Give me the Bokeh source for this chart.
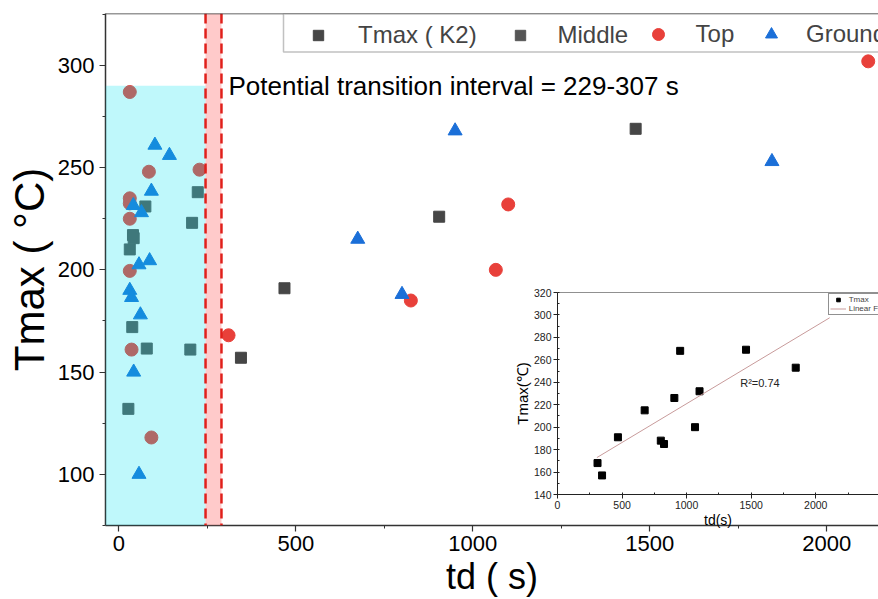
from bokeh.plotting import figure
from bokeh.models import (Span, BoxAnnotation, Label, Legend, LegendItem,
                          SingleIntervalTicker, Range1d)
from bokeh.embed import file_html
from bokeh.resources import INLINE

FONT = "Liberation Sans"

# ---------------- main chart data (td in s, Tmax in degC) ----------------
k2_td = [345, 468, 905, 1460]
k2_t = [157, 191, 226, 269]

mid_td = [223, 75, 207, 40, 42, 31, 38, 79, 202, 27]
mid_t = [238, 231, 223, 217, 215.5, 210, 172, 161.5, 161, 132]

top_td = [31, 85, 228, 31, 31, 31, 31, 36, 92, 310, 825, 1065, 1100, 2117]
top_t = [287, 248, 249, 235, 232.5, 225, 199.5, 161, 118, 168, 185, 200, 232, 302]

ground_td = [102, 143, 92, 41, 64, 87, 57, 31, 36, 61, 42, 57, 675, 800, 950, 1845]
ground_t = [261, 256, 238.5, 231.5, 228, 204.5, 202.5, 190, 186.5, 178, 150, 100, 215, 188, 268, 253]

legend_labels = ["Tmax ( K2)", "Middle", "Top", "Ground"]

cyan_end = 245      # end of the shaded low-td region (s)
cyan_top = 290      # top of the shaded region (degC)
band = [245, 290]   # transition interval band (s)
x_ticks_interval = 500
y_ticks_interval = 50

# ---------------- inset data ----------------
ins_td = [310, 345, 468, 675, 800, 825, 905, 950, 1065, 1100, 1460, 1845]
ins_t = [168, 157, 191, 215, 188, 185, 226, 268, 200, 232, 269, 253]
fit_x = [305, 2108]
fit_y = [172.9, 297.5]

# ---------------- main figure ----------------
p = figure(width=878, height=599,
           x_range=Range1d(-37.6, 2146), y_range=Range1d(74.95, 325.4),
           output_backend="svg", toolbar_location=None,
           min_border_left=105, min_border_top=13, min_border_right=0, min_border_bottom=74)
p.outline_line_color = None
p.grid.visible = False
p.background_fill_color = "white"

r_k2 = p.scatter(k2_td, k2_t, marker="square", size=11, color="#464646")
r_mid = p.scatter(mid_td, mid_t, marker="square", size=11, color="#555555")
r_top = p.scatter(top_td, top_t, marker="circle", size=13, color="#E8403A")
r_gr = p.scatter(ground_td, ground_t, marker="triangle", size=14, color="#1B6FD8")

p.add_layout(BoxAnnotation(right=cyan_end, top=cyan_top, fill_color="#00E4F0",
                           fill_alpha=0.25, line_color=None))
p.add_layout(BoxAnnotation(left=band[0], right=band[1], fill_color="#FF8A8A",
                           fill_alpha=0.45, line_color=None))
for b in band:
    p.add_layout(Span(location=b, dimension="height", line_color="#E0201B",
                      line_width=2.5, line_dash="10 5"))
p.add_layout(Span(location=325.4, dimension="width", line_color="#333333", line_width=1.5))

p.add_layout(Label(x=123, y=440, x_units="screen", y_units="screen",
                   text="Potential transition interval = 229-307 s",
                   text_font=FONT, text_font_size="26px", text_baseline="middle",
                   text_color="black"))

for ax in (p.xaxis[0], p.yaxis[0]):
    ax.axis_line_color = "#333333"
    ax.axis_line_width = 1.5
    ax.major_tick_line_color = "#333333"
    ax.minor_tick_line_color = "#333333"
    ax.major_tick_line_width = 1.2
    ax.major_tick_out = 6
    ax.major_tick_in = 0
    ax.minor_tick_out = 3
    ax.minor_tick_in = 0
    ax.major_label_text_font = FONT
    ax.major_label_text_font_size = "22px"
    ax.major_label_text_color = "black"
    ax.axis_label_text_font = FONT
    ax.axis_label_text_font_style = "normal"
    ax.axis_label_text_color = "black"

p.xaxis[0].ticker = SingleIntervalTicker(interval=x_ticks_interval, num_minor_ticks=2)
p.yaxis[0].ticker = SingleIntervalTicker(interval=y_ticks_interval, num_minor_ticks=2)
p.xaxis[0].axis_label = "td ( s)"
p.xaxis[0].axis_label_text_font_size = "36px"
p.xaxis[0].axis_label_standoff = 2
p.xaxis[0].major_label_standoff = 4
p.yaxis[0].axis_label = "Tmax ( °C)"
p.yaxis[0].axis_label_text_font_size = "42px"
p.yaxis[0].axis_label_standoff = 2
p.yaxis[0].major_label_standoff = 5

# legend frame
p.add_layout(BoxAnnotation(left=178, right=1200, top=511.5, bottom=473.5,
                           left_units="screen", right_units="screen",
                           top_units="screen", bottom_units="screen",
                           fill_color="white", fill_alpha=1,
                           line_color="#333333", line_width=1.5))

leg_specs = [  # (renderer, x, glyph size, standoff)
    (r_k2, 200, 26, 27),
    (r_mid, 401.5, 26, 25),
    (r_top, 537.6, 30, 23),
    (r_gr, 651, 30, 20),
]
for (r, lx, gs, so), lab in zip(leg_specs, legend_labels):
    lg = Legend(items=[LegendItem(label=lab, renderers=[r])], location=(lx, 476),
                orientation="horizontal", border_line_color=None,
                background_fill_alpha=0, padding=0, margin=0,
                glyph_width=gs, glyph_height=gs, label_standoff=so,
                label_text_font=FONT, label_text_font_size="24px",
                label_height=24)
    p.add_layout(lg)

# ---------------- inset figure ----------------
ins = figure(width=369, height=250,
             x_range=Range1d(0, 2486), y_range=Range1d(140, 320),
             output_backend="svg", toolbar_location=None,
             min_border_left=48, min_border_top=9, min_border_right=0, min_border_bottom=39,
             background_fill_alpha=0, border_fill_alpha=0)
ins.grid.visible = False
ins.outline_line_color = None

rs = ins.scatter(ins_td, ins_t, marker="square", size=7, color="black")
rl = ins.line(fit_x, fit_y, line_color="#C89B9B", line_width=1)
ins.add_layout(Span(location=320, dimension="width", line_color="#222222", line_width=1))

for ax in (ins.xaxis[0], ins.yaxis[0]):
    ax.axis_line_color = "#222222"
    ax.major_tick_line_color = "#222222"
    ax.minor_tick_line_color = "#222222"
    ax.major_tick_out = 4
    ax.major_tick_in = 0
    ax.minor_tick_out = 0
    ax.minor_tick_in = 2
    ax.major_label_text_font = FONT
    ax.major_label_text_font_size = "10.5px"
    ax.major_label_text_color = "#222222"
    ax.major_label_standoff = 2
    ax.axis_label_text_font = FONT
    ax.axis_label_text_font_style = "normal"
    ax.axis_label_text_color = "black"
    ax.axis_label_standoff = 0
ins.xaxis[0].ticker = SingleIntervalTicker(interval=500, num_minor_ticks=2)
ins.yaxis[0].ticker = SingleIntervalTicker(interval=20, num_minor_ticks=2)
ins.xaxis[0].axis_label = "td(s)"
ins.xaxis[0].axis_label_text_font_size = "14px"
ins.yaxis[0].axis_label = "Tmax(℃)"
ins.yaxis[0].axis_label_text_font_size = "15px"

ins.add_layout(Label(x=182.7, y=111.4, x_units="screen", y_units="screen",
                     text="R²=0.74", text_font=FONT, text_font_size="11px",
                     text_baseline="middle", text_color="#222222"))

ileg = Legend(items=[LegendItem(label="Tmax", renderers=[rs]),
                     LegendItem(label="Linear Fit", renderers=[rl])],
              location=(270.7, 179), padding=1, spacing=0, margin=0,
              glyph_width=16, glyph_height=9, label_height=9, label_standoff=3,
              label_text_font=FONT, label_text_font_size="8px",
              border_line_color="#222222", border_line_width=1,
              background_fill_color="white", background_fill_alpha=1)
ins.add_layout(ileg)

ins.styles = {"position": "absolute", "left": "509px", "top": "283px"}

open("out.html", "w").write(file_html([p, ins], INLINE))
